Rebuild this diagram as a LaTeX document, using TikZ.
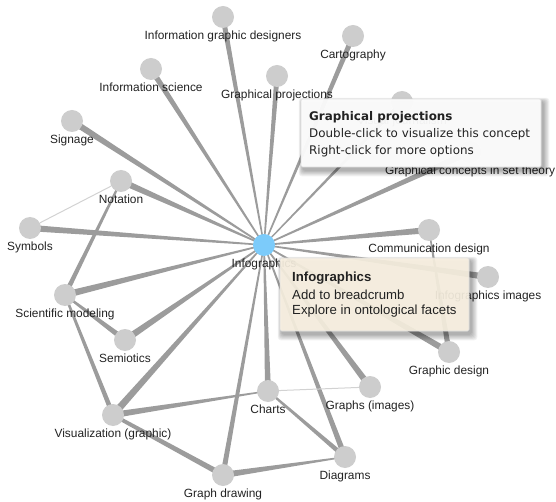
\documentclass[tikz,border=0pt]{standalone}
\usepackage{fontspec}
\setmainfont{Liberation Sans}
\newfontfamily\tipfont{DejaVu Sans}
\usetikzlibrary{calc}
\definecolor{edgegray}{HTML}{9C9C9C}
\definecolor{lightedge}{HTML}{D2D2D2}
\definecolor{nodegray}{HTML}{CDCDCD}
\definecolor{hubblue}{HTML}{7CCBFA}
\definecolor{labeltext}{HTML}{222222}
\definecolor{creamtip}{HTML}{FCF4E4}
\pgfdeclarelayer{edges}
\pgfdeclarelayer{tips}
\pgfsetlayers{edges,main,tips}
\newcommand{\tedge}[5][edgegray]{%
  \fill[#1] ($(#2.center)!#4!90:(#3.center)$) -- ($(#2.center)!#4!-90:(#3.center)$)
   -- ($(#3.center)!#5!90:(#2.center)$) -- ($(#3.center)!#5!-90:(#2.center)$) -- cycle;}
\begin{document}
\begin{tikzpicture}[x=1pt,y=-1pt,
  leaf/.style={circle,fill=nodegray,minimum size=22pt,inner sep=0pt},
  lbl/.style={font=\fontsize{11.9}{13}\selectfont,text=labeltext,inner sep=0.5pt,label distance=2pt},
  tipbox/.style={draw=black!12,rounded corners=1.5pt,line width=0.6pt},
  tiptext/.style={anchor=west,inner sep=0pt,text=labeltext}]
\useasboundingbox (0,0) rectangle (556,502);
% nodes
\node[leaf,fill=hubblue,label={[lbl]below:Infographics}] (hub) at (264,245) {};
\node[leaf,label={[lbl]below:Information graphic designers}] (igd) at (223,17) {};
\node[leaf,label={[lbl]below:Information science}] (isci) at (151,69) {};
\node[leaf,label={[lbl]below:Graphical projections}] (gproj) at (277,76) {};
\node[leaf,label={[lbl]below:Cartography}] (carto) at (353,36) {};
\node[leaf,label={[lbl]below:Visual journalism}] (vjour) at (402,102) {};
\node[leaf,label={[lbl]below:Graphical concepts in set theory}] (gcst) at (470,152) {};
\node[leaf,label={[lbl]below:Signage}] (sign) at (72,121) {};
\node[leaf,label={[lbl]below:Notation}] (nota) at (121,181) {};
\node[leaf,label={[lbl]below:Symbols}] (symb) at (30,228) {};
\node[leaf,label={[lbl]below:Scientific modeling}] (scim) at (65,295) {};
\node[leaf,label={[lbl]below:Semiotics}] (semi) at (125,340) {};
\node[leaf,label={[lbl]below:Visualization (graphic)}] (visu) at (113,415) {};
\node[leaf,label={[lbl]below:Graph drawing}] (gdraw) at (223,475) {};
\node[leaf,label={[lbl]below:Charts}] (chart) at (268,391) {};
\node[leaf,label={[lbl]below:Graphs (images)}] (gimg) at (370,387) {};
\node[leaf,label={[lbl]below:Diagrams}] (diag) at (345,457) {};
\node[leaf,label={[lbl]below:Graphic design}] (gdes) at (449,352) {};
\node[leaf,label={[lbl]below:Infographics images}] (iimg) at (488,277) {};
\node[leaf,label={[lbl]below:Communication design}] (comm) at (429,230) {};
% edges
\begin{pgfonlayer}{edges}
\tedge{hub}{igd}{0.7pt}{2.6pt}
\tedge{hub}{isci}{0.7pt}{2.8pt}
\tedge{hub}{gproj}{0.7pt}{2.6pt}
\tedge{hub}{carto}{0.7pt}{2.6pt}
\tedge{hub}{vjour}{0.6pt}{2.0pt}
\tedge{hub}{gcst}{0.7pt}{3.2pt}
\tedge{hub}{sign}{0.7pt}{3.2pt}
\tedge{hub}{nota}{0.7pt}{3.2pt}
\tedge{hub}{symb}{0.7pt}{3.2pt}
\tedge{hub}{scim}{0.7pt}{3.4pt}
\tedge{hub}{semi}{0.7pt}{3.4pt}
\tedge{hub}{visu}{0.7pt}{3.6pt}
\tedge{hub}{gdraw}{0.7pt}{2.6pt}
\tedge{hub}{chart}{0.7pt}{3.0pt}
\tedge{hub}{diag}{0.7pt}{2.8pt}
\tedge{hub}{gimg}{0.7pt}{3.2pt}
\tedge{hub}{gdes}{0.7pt}{3.2pt}
\tedge{hub}{iimg}{0.7pt}{3.2pt}
\tedge{hub}{comm}{0.7pt}{3.2pt}
\draw[lightedge,line width=1pt] (symb) -- (nota);
\draw[lightedge,line width=1pt] (chart) -- (gimg);
\tedge{nota}{scim}{1.0pt}{2.4pt}
\tedge{scim}{semi}{1.0pt}{2.8pt}
\tedge{scim}{visu}{1.2pt}{2.4pt}
\tedge{chart}{visu}{0.6pt}{3.2pt}
\tedge{visu}{gdraw}{1.8pt}{2.8pt}
\tedge{diag}{gdraw}{0.6pt}{3.2pt}
\tedge{chart}{diag}{1.0pt}{2.4pt}
\tedge{comm}{gdes}{0.6pt}{2.8pt}
\end{pgfonlayer}
% tooltips
\begin{pgfonlayer}{tips}
\foreach \k in {1,...,7}{
  \fill[black,opacity=0.05,rounded corners=3pt] (301-\k*0.6+2,99-\k*0.6+3) rectangle (541+\k*0.9+2,167+\k*0.9+3);
  \fill[black,opacity=0.05,rounded corners=3pt] (280-\k*0.6+2,258-\k*0.6+3) rectangle (469+\k*0.9+2,331+\k*0.9+3);
}
\filldraw[tipbox,fill=white,fill opacity=0.94] (301,99) rectangle (541,167);
\node[tiptext,font=\tipfont\fontsize{11.9}{13}\selectfont\bfseries] (t1a) at (309,117) {Graphical projections};
\node[tiptext,font=\tipfont\fontsize{11.9}{13}\selectfont] (t1b) at (309,134) {Double-click to visualize this concept};
\node[tiptext,font=\tipfont\fontsize{11.9}{13}\selectfont] (t1c) at (309,151) {Right-click for more options};
\filldraw[tipbox,fill=creamtip,fill opacity=0.9] (280,258) rectangle (469,331);
\node[tiptext,font=\fontsize{13.2}{15}\selectfont\bfseries] (t2a) at (292,278) {Infographics};
\node[tiptext,font=\fontsize{13.2}{15}\selectfont] (t2b) at (292,295) {Add to breadcrumb};
\node[tiptext,font=\fontsize{13.2}{15}\selectfont] (t2c) at (292,311) {Explore in ontological facets};
\end{pgfonlayer}
\end{tikzpicture}
\end{document}
